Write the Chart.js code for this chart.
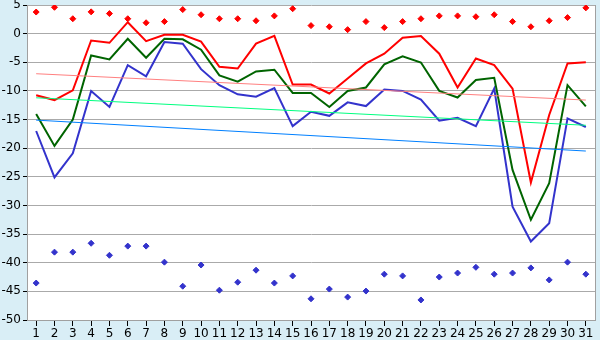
<!DOCTYPE html>
<html>
<head>
<meta charset="utf-8">
<script src="https://cdn.jsdelivr.net/npm/chart.js@4/dist/chart.umd.min.js"></script>
<style>
    html, body { margin: 0; padding: 0; background: #d9eef6; }
    #wrap { width: 600px; height: 340px; }
</style>
</head>
<body>
<div id="wrap"><canvas id="chart_canvas" width="600" height="340"></canvas></div>
<script>
const days = ['1','2','3','4','5','6','7','8','9','10','11','12','13','14','15','16','17','18','19','20','21','22','23','24','25','26','27','28','29','30','31']

const redLine = [-10.75, -11.6, -9.9, -1.2, -1.6, 2.0, -1.3, -0.2, -0.2, -1.4, -5.8, -6.1, -1.75, -0.4, -8.9, -8.9,
    -10.45, -7.85, -5.2, -3.5, -0.7, -0.4, -3.5, -9.4, -4.35, -5.5, -9.6, -26.0, -14.2, -5.2, -5.0]
const greenLine = [-14.05, -19.6, -15.0, -3.8, -4.5, -0.9, -4.2, -0.9, -1.0, -2.8, -7.3, -8.4, -6.6, -6.3, -10.35, -10.35,
    -12.8, -10.0, -9.4, -5.35, -3.95, -5.05, -10.0, -11.15, -8.1, -7.7, -23.8, -32.5, -26.1, -9.0, -12.7]
const blueLine = [-17.0, -25.1, -20.9, -10.0, -12.8, -5.5, -7.45, -1.45, -1.75, -6.2, -9.0, -10.6, -11.0, -9.5, -16.15, -13.65,
    -14.35, -12.0, -12.65, -9.75, -10.0, -11.5, -15.2, -14.7, -16.15, -9.6, -30.2, -36.3, -33.1, -14.8, -16.3]

const redPoints = [3.77, 4.6, 2.6, 3.8, 3.5, 2.6, 1.9, 2.1, 4.2, 3.3, 2.6, 2.6, 2.25, 3.1, 4.35, 1.4,
    1.2, 0.7, 2.1, 1.05, 2.1, 2.6, 3.1, 3.1, 2.95, 3.3, 2.1, 1.2, 2.25, 2.8, 4.5]
const bluePoints = [-43.55, -38.15, -38.15, -36.6, -38.7, -37.1, -37.1, -39.9, -44.1, -40.4, -44.8, -43.4, -41.3, -43.55, -42.3, -46.3,
    -44.6, -46.0, -44.95, -42.0, -42.3, -46.5, -42.5, -41.8, -40.8, -42.0, -41.8, -40.9, -43.0, -39.9, -42.0]

// trend lines, start (day 1) and end (day 31)
const redTrend = [-7.0, -11.6]
const greenTrend = [-11.2, -16.0]
const blueTrend = [-15.1, -20.5]

function trend(vals) {
    return [{x: days[0], y: vals[0]}, {x: days[days.length - 1], y: vals[1]}]
}

function lineSet(label, data, color, width) {
    return {
        label: label,
        data: data,
        borderColor: color,
        backgroundColor: color,
        borderWidth: width,
        pointRadius: 0,
        tension: 0,
        fill: false
    }
}

function dotSet(label, data, color) {
    return {
        label: label,
        data: data,
        showLine: false,
        borderColor: color,
        backgroundColor: color,
        pointStyle: 'rectRot',
        pointRadius: 3,
        pointBorderWidth: 1
    }
}

const plotBg = {
    id: 'plotBg',
    beforeDraw(chart) {
        const a = chart.chartArea
        const ctx = chart.ctx
        ctx.save()
        ctx.fillStyle = '#ffffff'
        ctx.fillRect(a.left, a.top, a.right - a.left, a.bottom - a.top)
        ctx.restore()
    },
    afterDraw(chart) {
        const a = chart.chartArea
        const ctx = chart.ctx
        ctx.save()
        ctx.strokeStyle = '#a0a0a0'
        ctx.lineWidth = 1
        ctx.beginPath()
        ctx.moveTo(Math.round(a.right) + 0.5, a.top)
        ctx.lineTo(Math.round(a.right) + 0.5, a.bottom)
        ctx.stroke()
        ctx.restore()
    }
}

Chart.defaults.font.family = 'DejaVu Sans'
Chart.defaults.font.size = 12
Chart.defaults.color = '#000000'

const chart = new Chart(document.getElementById('chart_canvas'), {
    type: 'line',
    data: {
        labels: days,
        datasets: [
            lineSet('trend red', trend(redTrend), '#ff8080', 1),
            lineSet('trend green', trend(greenTrend), '#00ff80', 1),
            lineSet('trend blue', trend(blueTrend), '#0080ff', 1),
            lineSet('red', redLine, '#ff0000', 2),
            lineSet('green', greenLine, '#006400', 2),
            lineSet('blue', blueLine, '#3333cc', 2),
            dotSet('red points', redPoints, '#ff0000'),
            dotSet('blue points', bluePoints, '#3333cc')
        ]
    },
    options: {
        responsive: false,
        animation: false,
        devicePixelRatio: 1,
        layout: {
            padding: {top: 4, right: 5, left: 0, bottom: 0}
        },
        plugins: {
            legend: {display: false},
            tooltip: {enabled: false}
        },
        scales: {
            x: {
                type: 'category',
                offset: true,
                grid: {
                    drawOnChartArea: false,
                    drawTicks: true,
                    tickLength: 6,
                    color: '#000000',
                    offset: false
                },
                border: {color: '#a0a0a0'},
                ticks: {padding: 1, maxRotation: 0, autoSkip: false},
                afterFit(scale) {
                    scale.height = 20
                    scale.paddingLeft = 0
                    scale.paddingRight = 0
                }
            },
            y: {
                min: -50,
                max: 5,
                ticks: {stepSize: 5, padding: 2},
                grid: {color: '#aaaaaa', drawTicks: true, tickLength: 4, tickColor: '#000000'},
                border: {color: '#a0a0a0'},
                afterFit(scale) {
                    scale.width = 27
                    scale.paddingTop = 0
                    scale.paddingBottom = 0
                }
            }
        }
    },
    plugins: [plotBg]
});
</script>
</body>
</html>
